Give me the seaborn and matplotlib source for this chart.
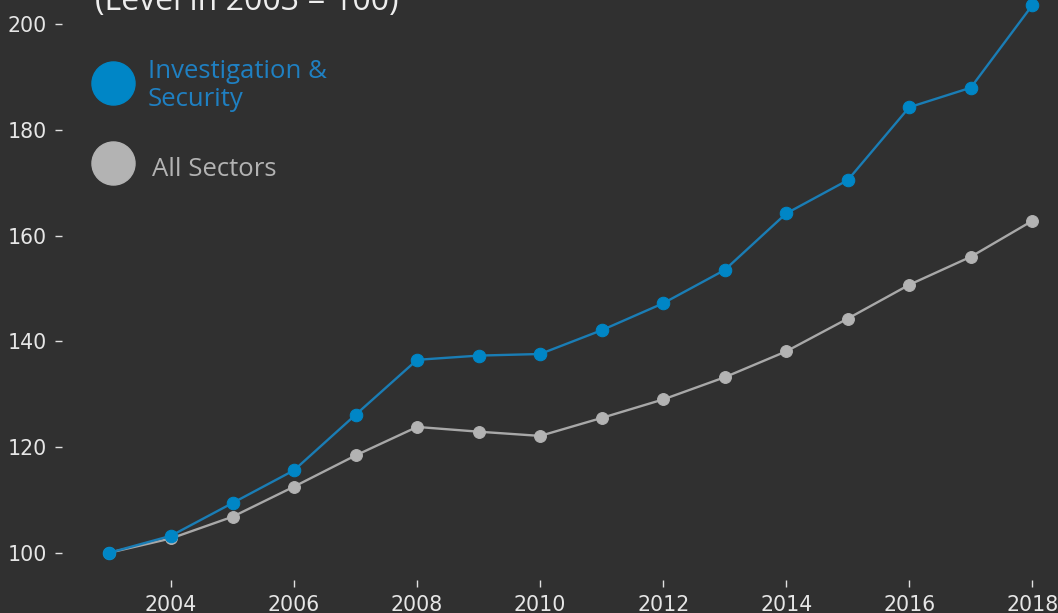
import pandas as pd
import matplotlib.pyplot as plt
import seaborn as sns
from matplotlib.lines import Line2D

# data
years = list(range(2003, 2019))
investigation = [100.0, 103.2, 109.4, 115.6, 126.1, 136.5, 137.3, 137.6,
                 142.1, 147.2, 153.5, 164.2, 170.5, 184.3, 188.0, 203.6]
all_sectors = [100.0, 102.7, 106.8, 112.5, 118.4, 123.8, 122.9, 122.1,
               125.5, 129.0, 133.2, 138.1, 144.3, 150.7, 156.0, 162.8]
series_names = ["Investigation & Security", "All Sectors"]
x_ticks = [2004, 2006, 2008, 2010, 2012, 2014, 2016, 2018]
y_ticks = [100, 120, 140, 160, 180, 200]

bg = "#303030"
blue = "#0086c6"
blue_line = "#1a7db5"
grey = "#b3b3b3"
grey_line = "#a8a8a8"

df = pd.DataFrame({
    "year": years * 2,
    "index": investigation + all_sectors,
    "series": [series_names[0]] * len(years) + [series_names[1]] * len(years),
})

sns.set_theme(style="dark", rc={
    "figure.facecolor": bg,
    "axes.facecolor": bg,
    "savefig.facecolor": bg,
})

W, H = 1058, 613
fig = plt.figure(figsize=(W / 100, H / 100), dpi=100)
ax = fig.add_axes([62 / W, 1 - 580 / H, (W - 62) / W, 580 / H])

# draw all sectors first so the blue line sits on top
for name, marker_col, line_col, ms in [(series_names[1], grey, grey_line, 8.5),
                                       (series_names[0], blue, blue_line, 9)]:
    sub = df[df["series"] == name]
    sns.lineplot(data=sub, x="year", y="index", ax=ax, color=line_col,
                 linewidth=1.7, marker="o", markersize=ms,
                 markerfacecolor=marker_col, markeredgecolor=marker_col,
                 clip_on=False, legend=False)

ax.set_xlim(2002.228, 2018.418)
ax.set_ylim(94.83, 204.6)
ax.set_xticks(x_ticks)
ax.set_yticks(y_ticks)
ax.set_xlabel("")
ax.set_ylabel("")
for s in ax.spines.values():
    s.set_visible(False)
ax.grid(False)
ax.tick_params(axis="both", which="major", direction="out", length=5, width=1,
               color="#e0e0e0", labelcolor="#e6e6e6", labelsize=14.8, pad=6,
               bottom=True, left=True)
for lab in ax.get_xticklabels() + ax.get_yticklabels():
    lab.set_fontfamily("DejaVu Sans")

# title (mostly cut off at the top of the image, as in the reference)
fig.text(95 / W, 1 - 10 / H, "(Level in 2003 = 100)", fontsize=23,
         color="#eeeeee", family="Open Sans", ha="left", va="baseline")

# legend, drawn by hand
fig.add_artist(Line2D([113 / W], [1 - 83 / H], marker="o", markersize=31,
                      color=blue, linestyle="none", transform=fig.transFigure))
fig.add_artist(Line2D([113 / W], [1 - 163 / H], marker="o", markersize=31,
                      color=grey, linestyle="none", transform=fig.transFigure))
fig.text(148 / W, 1 - 78 / H, "Investigation &", fontsize=18.5, color="#1f80c2",
         family="Open Sans", ha="left", va="baseline")
fig.text(148 / W, 1 - 106 / H, "Security", fontsize=18.5, color="#1f80c2",
         family="Open Sans", ha="left", va="baseline")
fig.text(152 / W, 1 - 176 / H, "All Sectors", fontsize=18.5, color="#b3b3b3",
         family="Open Sans", ha="left", va="baseline")

fig.savefig("out.png", dpi=100)
plt.close(fig)
